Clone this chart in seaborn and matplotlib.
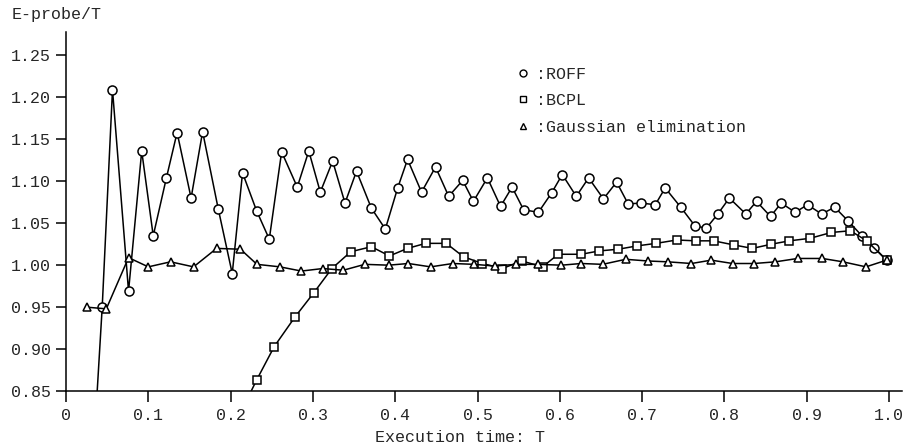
import matplotlib
matplotlib.use("Agg")
import matplotlib.pyplot as plt
from matplotlib.lines import Line2D
import seaborn as sns

# ROFF (circles)
roff_x = [0.030, 0.044, 0.0565, 0.076, 0.092, 0.106, 0.122, 0.135, 0.152, 0.166,
          0.185, 0.202, 0.2145, 0.2315, 0.247, 0.262, 0.281, 0.295, 0.309, 0.324,
          0.339, 0.353, 0.371, 0.388, 0.403, 0.415, 0.432, 0.449, 0.465, 0.482,
          0.495, 0.512, 0.528, 0.542, 0.556, 0.574, 0.590, 0.603, 0.620, 0.635,
          0.653, 0.669, 0.683, 0.699, 0.716, 0.728, 0.747, 0.764, 0.778, 0.792,
          0.806, 0.826, 0.839, 0.856, 0.869, 0.886, 0.901, 0.918, 0.934, 0.950,
          0.967, 0.982, 0.997]
roff_y = [0.72, 0.950, 1.209, 0.969, 1.136, 1.035, 1.104, 1.158, 1.080, 1.159,
          1.067, 0.990, 1.110, 1.065, 1.031, 1.135, 1.093, 1.136, 1.087, 1.124,
          1.074, 1.112, 1.068, 1.043, 1.092, 1.126, 1.087, 1.117, 1.082, 1.101,
          1.076, 1.104, 1.070, 1.093, 1.066, 1.063, 1.086, 1.108, 1.082, 1.104,
          1.079, 1.099, 1.073, 1.074, 1.072, 1.092, 1.069, 1.047, 1.044, 1.061,
          1.080, 1.061, 1.076, 1.058, 1.074, 1.063, 1.072, 1.061, 1.069, 1.053,
          1.035, 1.021, 1.006]

# BCPL (squares)
bcpl_x = [0.210, 0.2315, 0.253, 0.278, 0.301, 0.323, 0.346, 0.371, 0.393, 0.415,
          0.437, 0.462, 0.483, 0.506, 0.530, 0.554, 0.579, 0.598, 0.626, 0.648,
          0.671, 0.694, 0.717, 0.742, 0.765, 0.787, 0.812, 0.834, 0.857, 0.879,
          0.904, 0.930, 0.953, 0.973, 0.997]
bcpl_y = [0.82, 0.863, 0.903, 0.938, 0.967, 0.996, 1.016, 1.022, 1.011, 1.020,
          1.026, 1.026, 1.010, 1.002, 0.996, 1.005, 0.998, 1.013, 1.013, 1.017,
          1.019, 1.023, 1.026, 1.030, 1.029, 1.029, 1.024, 1.020, 1.025, 1.029,
          1.032, 1.039, 1.041, 1.029, 1.006]

# Gaussian elimination (triangles)
gauss_x = [0.025, 0.049, 0.076, 0.100, 0.127, 0.155, 0.183, 0.212, 0.232, 0.260,
           0.286, 0.312, 0.337, 0.363, 0.392, 0.416, 0.443, 0.470, 0.496, 0.521,
           0.547, 0.574, 0.602, 0.626, 0.652, 0.680, 0.707, 0.731, 0.760, 0.784,
           0.810, 0.836, 0.862, 0.889, 0.919, 0.944, 0.972, 0.997]
gauss_y = [0.950, 0.948, 1.009, 0.998, 1.004, 0.998, 1.020, 1.019, 1.001, 0.998,
           0.993, 0.996, 0.994, 1.001, 1.000, 1.002, 0.998, 1.002, 1.001, 0.999,
           1.001, 1.001, 1.000, 1.002, 1.001, 1.007, 1.005, 1.004, 1.002, 1.006,
           1.002, 1.002, 1.004, 1.008, 1.008, 1.004, 0.998, 1.006]

x_ticks = [0, 0.1, 0.2, 0.3, 0.4, 0.5, 0.6, 0.7, 0.8, 0.9, 1.0]
x_labels = ["0", "0.1", "0.2", "0.3", "0.4", "0.5", "0.6", "0.7", "0.8", "0.9", "1.0"]
y_ticks = [0.85, 0.90, 0.95, 1.00, 1.05, 1.10, 1.15, 1.20, 1.25]
y_labels = ["0.85", "0.90", "0.95", "1.00", "1.05", "1.10", "1.15", "1.20", "1.25"]

sns.set_style("ticks")
plt.rcParams['font.family'] = ['Liberation Mono', 'DejaVu Sans Mono']

fig = plt.figure(figsize=(9.04, 4.48), dpi=100)
ax = fig.add_axes([0.073, 0.127, 0.925, 0.802])

style = dict(color='black', linewidth=1.1, markerfacecolor='white',
             markeredgecolor='black', markeredgewidth=1.1)
sns.lineplot(x=roff_x, y=roff_y, marker='o', markersize=6.5, ax=ax, **style)
sns.lineplot(x=bcpl_x, y=bcpl_y, marker='s', markersize=5.5, ax=ax, **style)
sns.lineplot(x=gauss_x, y=gauss_y, marker='^', markersize=5.5, ax=ax, **style)

ax.set_xlim(0, 1.016)
ax.set_ylim(0.85, 1.278)
ax.set_xticks(x_ticks)
ax.set_xticklabels(x_labels)
ax.set_yticks(y_ticks)
ax.set_yticklabels(y_labels)
ax.tick_params(axis='both', labelsize=12, color='black', width=1.1, direction='out')
ax.tick_params(axis='y', length=7, pad=4)
ax.tick_params(axis='x', length=8, pad=4)
sns.despine(ax=ax)
for s in ['left', 'bottom']:
    ax.spines[s].set_color('black')
    ax.spines[s].set_linewidth(1.1)

ax.set_xlabel("")
ax.set_ylabel("")
fig.text(460 / 904, 1 - 437 / 448, "Execution time: T", ha='center', va='center', fontsize=12)
fig.text(12 / 904, 1 - 15 / 448, "E-probe/T", ha='left', va='center', fontsize=12)

handles = [
    Line2D([], [], marker='o', linestyle='none', markersize=5, markerfacecolor='white',
           markeredgecolor='black', markeredgewidth=1.0),
    Line2D([], [], marker='s', linestyle='none', markersize=4.5, markerfacecolor='white',
           markeredgecolor='black', markeredgewidth=1.0),
    Line2D([], [], marker='^', linestyle='none', markersize=4.5, markerfacecolor='white',
           markeredgecolor='black', markeredgewidth=1.0),
]
ax.legend(handles, [":ROFF", ":BCPL", ":Gaussian elimination"],
          loc='upper left', bbox_to_anchor=(518 / 904, 1 - 67 / 448),
          bbox_transform=fig.transFigure, frameon=False, fontsize=12,
          handlelength=0.6, handletextpad=0.5, labelspacing=0.68,
          borderpad=0, borderaxespad=0)

fig.savefig("out.png", dpi=100)
